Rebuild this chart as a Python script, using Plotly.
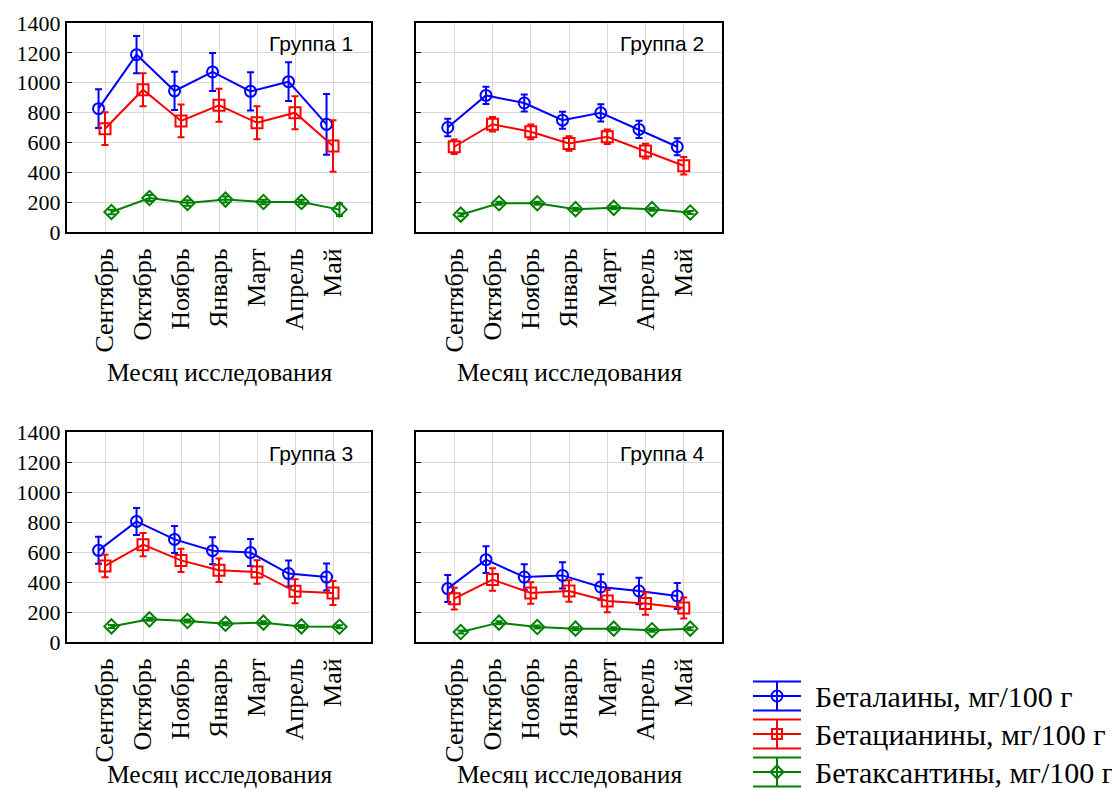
import plotly.graph_objects as go

months = ["Сентябрь", "Октябрь", "Ноябрь", "Январь", "Март", "Апрель", "Май"]
groups = ["Группа 1", "Группа 2", "Группа 3", "Группа 4"]
series_names = ["Беталаины, мг/100 г", "Бетацианины, мг/100 г", "Бетаксантины, мг/100 г"]
x_title = "Месяц исследования"

# Group 1
g1_betalain = [826, 1188, 945, 1072, 942, 1007, 721]
g1_betalain_err = [130, 125, 128, 127, 128, 130, 204]
g1_betacyan = [692, 953, 744, 849, 732, 799, 576]
g1_betacyan_err = [110, 110, 110, 110, 110, 110, 172]
g1_betaxan = [134, 228, 194, 217, 201, 201, 150]
g1_betaxan_err = [15, 20, 18, 20, 15, 15, 42]
# Group 2
g2_betalain = [700, 915, 864, 749, 798, 687, 571]
g2_betalain_err = [58, 58, 57, 57, 58, 58, 57]
g2_betacyan = [571, 722, 671, 593, 638, 542, 444]
g2_betacyan_err = [49, 49, 49, 49, 49, 49, 58]
g2_betaxan = [116, 193, 193, 153, 162, 153, 131]
g2_betaxan_err = [10, 10, 10, 10, 10, 10, 10]
# Group 3
g3_betalain = [611, 804, 684, 609, 596, 456, 433]
g3_betalain_err = [90, 90, 90, 90, 90, 88, 90]
g3_betacyan = [507, 649, 544, 478, 467, 338, 327]
g3_betacyan_err = [75, 78, 78, 78, 78, 80, 80]
g3_betaxan = [104, 151, 140, 122, 129, 104, 102]
g3_betaxan_err = [10, 10, 10, 10, 10, 10, 10]
# Group 4
g4_betalain = [356, 549, 433, 444, 367, 340, 307]
g4_betalain_err = [90, 89, 85, 87, 85, 88, 87]
g4_betacyan = [289, 416, 327, 340, 273, 256, 227]
g4_betacyan_err = [73, 75, 72, 72, 74, 75, 70]
g4_betaxan = [67, 129, 100, 89, 89, 78, 89]
g4_betaxan_err = [10, 10, 10, 10, 10, 10, 10]

data = [
    [(g1_betalain, g1_betalain_err), (g1_betacyan, g1_betacyan_err), (g1_betaxan, g1_betaxan_err)],
    [(g2_betalain, g2_betalain_err), (g2_betacyan, g2_betacyan_err), (g2_betaxan, g2_betaxan_err)],
    [(g3_betalain, g3_betalain_err), (g3_betacyan, g3_betacyan_err), (g3_betaxan, g3_betaxan_err)],
    [(g4_betalain, g4_betalain_err), (g4_betacyan, g4_betacyan_err), (g4_betaxan, g4_betaxan_err)],
]

colors = ["#0000FF", "#FF0000", "#008000"]
symbols = ["circle-open", "square-open", "diamond-open"]
offsets = [-0.17, 0.0, 0.17]

W, H = 1120, 789
OFF = 8  # page body margin offset
# panel frames in screen pixels (left, right, top, bottom)
frames = [(67, 371, 23, 232), (416, 722, 23, 232), (67, 371, 432, 642), (416, 722, 432, 642)]
title_y = [372, 372, 774, 774]

serif = "Liberation Serif"
sans = "Liberation Sans"


def px(x):
    return (x - OFF) / W


def py(y):
    return 1 - (y - OFF) / H


fig = go.Figure()

for p in range(4):
    xa = "x" if p == 0 else f"x{p+1}"
    ya = "y" if p == 0 else f"y{p+1}"
    for s in range(3):
        vals, errs = data[p][s]
        xs = [i + offsets[s] for i in range(len(months))]
        fig.add_trace(go.Scatter(
            x=xs, y=vals, xaxis=xa, yaxis=ya,
            mode="lines+markers",
            name=series_names[s],
            legendgroup=series_names[s],
            showlegend=False,
            line=dict(color=colors[s], width=2),
            marker=dict(symbol=symbols[s], size=11, color=colors[s], line=dict(width=2, color=colors[s])),
            error_y=dict(type="data", array=errs, visible=True, color=colors[s], thickness=2, width=3.5),
            cliponaxis=False,
        ))

shapes = []
annotations = []

for p in range(4):
    l, r, t, b = frames[p]
    xk = "xaxis" if p == 0 else f"xaxis{p+1}"
    yk = "yaxis" if p == 0 else f"yaxis{p+1}"
    xa = "x" if p == 0 else f"x{p+1}"
    ya = "y" if p == 0 else f"y{p+1}"
    fig.layout[xk] = dict(
        domain=[px(l), px(r)], anchor=ya, automargin=False,
        range=[-1, 7], tickmode="array", tickvals=list(range(len(months))), ticktext=months,
        tickangle=-90, tickfont=dict(family=serif, size=26, color="black"),
        showgrid=True, gridcolor="#d8d8d8", gridwidth=1,
        showline=True, linecolor="black", linewidth=2, mirror=True,
        ticks="outside", ticklen=4, tickcolor="rgba(0,0,0,0)", zeroline=False,
    )
    fig.layout[yk] = dict(
        domain=[py(b), py(t)], anchor=xa, automargin=False,
        range=[0, 1400], tickmode="linear", tick0=0, dtick=200,
        showticklabels=(p in (0, 2)), tickfont=dict(family=serif, size=22, color="black"),
        showgrid=True, gridcolor="#d8d8d8", gridwidth=1,
        showline=True, linecolor="black", linewidth=2, mirror=True,
        ticks="inside", ticklen=5, tickcolor="black", zeroline=False,
    )
    # right-side minor tick axis
    fig.layout[f"yaxis{p+5}"] = dict(
        overlaying=ya, anchor=xa, side="right", automargin=False,
        range=[0, 9], tickmode="linear", tick0=0, dtick=1,
        showticklabels=False, showgrid=False, showline=False, zeroline=False,
        ticks="inside", ticklen=5, tickcolor="black",
    )
    annotations.append(dict(
        text=groups[p], xref="paper", yref="paper",
        x=px(r - 16), y=py(t + 21), xanchor="right", yanchor="middle",
        showarrow=False, font=dict(family=sans, size=21, color="black"),
    ))
    annotations.append(dict(
        text=x_title, xref="paper", yref="paper",
        x=px((l + r) / 2), y=py(title_y[p]), xanchor="center", yanchor="middle",
        showarrow=False, font=dict(family=serif, size=25.5, color="black"),
    ))

# custom legend (key glyph: line with error bar and caps, like the source)
leg_x0, leg_x1, leg_xc = 753, 801, 777
leg_text_x = 813
leg_centers = [696, 734, 772]
cap = 14.5
for s in range(3):
    c = colors[s]
    yc = leg_centers[s]
    for dy in (-cap, 0, cap):
        shapes.append(dict(type="line", xref="paper", yref="paper",
                           x0=px(leg_x0), x1=px(leg_x1), y0=py(yc + dy), y1=py(yc + dy),
                           line=dict(color=c, width=2)))
    shapes.append(dict(type="line", xref="paper", yref="paper",
                       x0=px(leg_xc), x1=px(leg_xc), y0=py(yc - cap), y1=py(yc + cap),
                       line=dict(color=c, width=2)))
    if s == 0:
        m = 5.5
        shapes.append(dict(type="circle", xref="paper", yref="paper",
                           x0=px(leg_xc - m), x1=px(leg_xc + m), y0=py(yc + m), y1=py(yc - m),
                           line=dict(color=c, width=2)))
    elif s == 1:
        m = 5
        shapes.append(dict(type="rect", xref="paper", yref="paper",
                           x0=px(leg_xc - m), x1=px(leg_xc + m), y0=py(yc + m), y1=py(yc - m),
                           line=dict(color=c, width=2)))
    else:
        m = 6.5
        path = (f"M{px(leg_xc - m)},{py(yc)} L{px(leg_xc)},{py(yc - m)} "
                f"L{px(leg_xc + m)},{py(yc)} L{px(leg_xc)},{py(yc + m)} Z")
        shapes.append(dict(type="path", xref="paper", yref="paper", path=path,
                           line=dict(color=c, width=2)))
    annotations.append(dict(
        text=series_names[s], xref="paper", yref="paper",
        x=px(leg_text_x), y=py(yc), xanchor="left", yanchor="middle",
        showarrow=False, font=dict(family=serif, size=30, color="black"),
    ))

fig.update_layout(
    width=W, height=H,
    margin=dict(l=0, r=0, t=0, b=0, autoexpand=False),
    paper_bgcolor="white", plot_bgcolor="white",
    font=dict(family=serif, size=22, color="black"),
    showlegend=False,
    shapes=shapes,
    annotations=annotations,
)
fig.write_html("out.html")
